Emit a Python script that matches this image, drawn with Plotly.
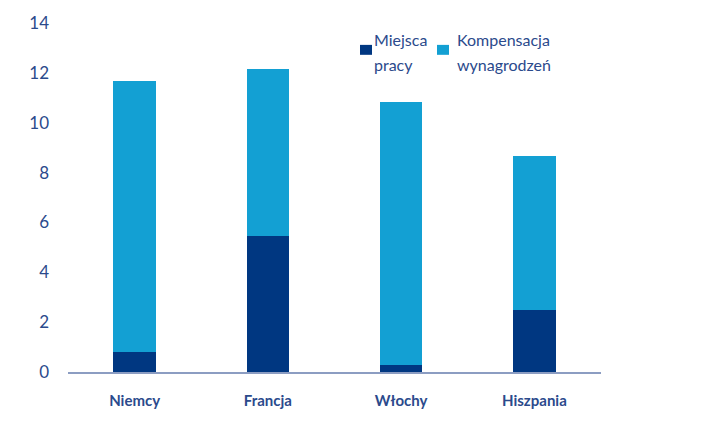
import plotly.graph_objects as go

categories = ["Niemcy", "Francja", "Włochy", "Hiszpania"]
jobs = [0.8, 5.45, 0.3, 2.5]
compensation = [10.87, 6.7, 10.54, 6.15]
series_names = ["Miejsca pracy", "Kompensacja wynagrodzeń"]
legend_lines = [["Miejsca", "pracy"], ["Kompensacja", "wynagrodzeń"]]
y_ticks = [0, 2, 4, 6, 8, 10, 12, 14]

DARK = "#003781"
LIGHT = "#13A0D3"
TEXT = "#2B4A8C"
FONT = "Lato"

W, H = 715, 430
ML, MR, MT, MB = 68, 114, 21, 58
PW, PH = W - ML - MR, H - MT - MB


def px(x):
    return (x - ML) / PW


def py(y):
    return (H - MB - y) / PH


fig = go.Figure()
fig.add_trace(go.Bar(x=categories, y=jobs, name=series_names[0],
                     marker=dict(color=DARK, line=dict(width=0)), width=0.32))
fig.add_trace(go.Bar(x=categories, y=compensation, name=series_names[1],
                     marker=dict(color=LIGHT, line=dict(width=0)), width=0.32))

# custom legend (symbol squares + two-line labels)
legend_items = [(360, DARK, legend_lines[0], 12), (437, LIGHT, legend_lines[1], 18)]
for x0, col, lines, off in legend_items:
    fig.add_shape(type="rect", xref="paper", yref="paper",
                  x0=px(x0), x1=px(x0 + 12), y0=py(53), y1=py(43),
                  fillcolor=col, line=dict(width=0))
    for i, t in enumerate(lines):
        fig.add_annotation(text=t, xref="paper", yref="paper",
                           x=px(x0 + off), y=py(38 + 25 * i),
                           xanchor="left", yanchor="middle", showarrow=False,
                           font=dict(size=16, color=TEXT, family=FONT))

fig.update_layout(
    barmode="stack",
    width=W, height=H,
    margin=dict(l=ML, r=MR, t=MT, b=MB),
    paper_bgcolor="white", plot_bgcolor="white",
    font=dict(family=FONT, color=TEXT, size=16),
    showlegend=False,
    bargap=0.68,
)
fig.update_yaxes(range=[0, 14], tickvals=y_ticks, showgrid=False, zeroline=False,
                 showline=False, ticklabelstandoff=18,
                 tickfont=dict(size=17, color=TEXT, family=FONT))
fig.update_xaxes(showline=True, linecolor="#8C9DC2", linewidth=1.5, showgrid=False,
                 ticklabelstandoff=14,
                 tickfont=dict(size=15, color=TEXT, family=FONT, weight="bold"))

fig.write_html("out.html")
